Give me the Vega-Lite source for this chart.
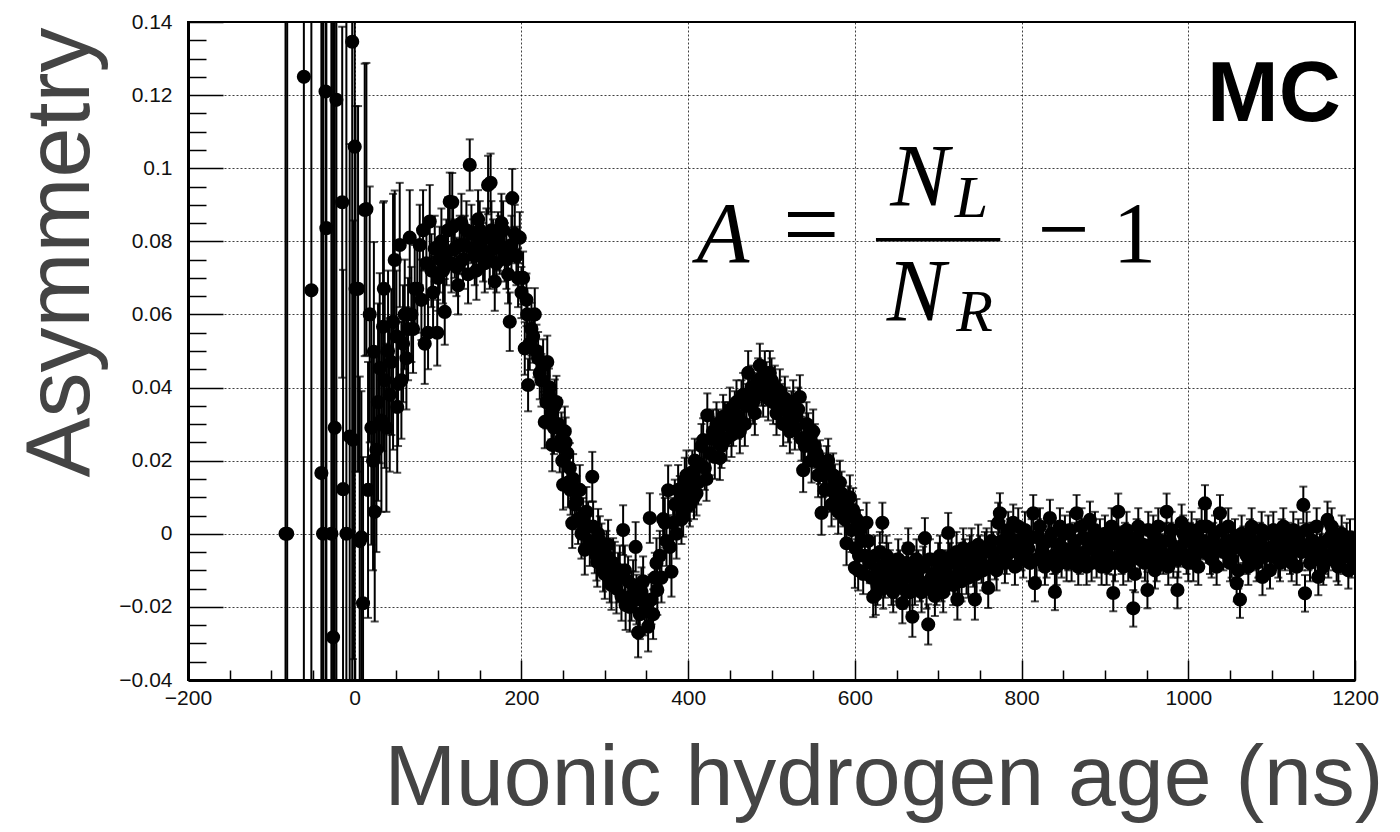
{
  "$schema": "https://vega.github.io/schema/vega-lite/v6.json",
  "width": 1167,
  "height": 658,
  "autosize": "none",
  "padding": {"left": 188, "top": 22, "right": 45, "bottom": 152},
  "background": "white",
  "config": {
    "view": {"stroke": "black", "strokeWidth": 2},
    "axis": {
      "labelFont": "Liberation Sans",
      "labelFontSize": 21,
      "labelColor": "#111111",
      "labelOverlap": false,
      "labelBound": false,
      "labelFlush": false,
      "titleFont": "Liberation Sans",
      "titleFontWeight": "normal",
      "titleColor": "#444444",
      "tickColor": "black",
      "domainColor": "black",
      "gridColor": "black",
      "gridDash": [2, 2],
      "gridOpacity": 0.75,
      "gridWidth": 1
    }
  },
  "datasets": {
    "h": [
      {"t": -83, "a": 0, "e": 1}, {"t": -81, "a": 0, "e": 1}, {"t": -61, "a": 0.125, "e": 1}, {"t": -52, "a": 0.0666, "e": 1},
      {"t": -40, "a": 0.0166, "e": 1}, {"t": -38, "a": 0, "e": 1}, {"t": -35, "a": 0.121, "e": 1}, {"t": -34, "a": 0.0836, "e": 1},
      {"t": -28, "a": 0, "e": 1}, {"t": -26, "a": -0.0283, "e": 1}, {"t": -24, "a": 0.029, "e": 1}, {"t": -22, "a": 0.1187, "e": 0.2},
      {"t": -15, "a": 0.0907, "e": 0.048}, {"t": -14, "a": 0.0122, "e": 0.06}, {"t": -10, "a": 0, "e": 1}, {"t": -6, "a": 0.0266, "e": 0.08},
      {"t": -3, "a": 0.1346, "e": 1}, {"t": -2, "a": 0.0257, "e": 0.06}, {"t": 0, "a": 0.1059, "e": 1},
      {"t": 1, "a": 0.067, "e": 0.05}, {"t": 4, "a": 0.067, "e": 0.05}, {"t": 6, "a": -0.002, "e": 0.045}, {"t": 8, "a": -0.001, "e": 0.04},
      {"t": 10, "a": -0.019, "e": 0.04}, {"t": 12, "a": 0.0886, "e": 0.04}, {"t": 14, "a": 0.0888, "e": 0.04}, {"t": 16, "a": 0.012, "e": 0.035},
      {"t": 18, "a": 0.06, "e": 0.035}, {"t": 20, "a": 0.029, "e": 0.032}, {"t": 22, "a": 0.02, "e": 0.03}, {"t": 23, "a": 0.0498, "e": 0.03},
      {"t": 24, "a": 0.006, "e": 0.03}, {"t": 26, "a": 0.023, "e": 0.028}, {"t": 28, "a": 0.036, "e": 0.027}, {"t": 30, "a": 0.0453, "e": 0.026},
      {"t": 32, "a": 0.031, "e": 0.025}, {"t": 34, "a": 0.0566, "e": 0.034}, {"t": 35, "a": 0.067, "e": 0.024}, {"t": 36, "a": 0.042, "e": 0.024},
      {"t": 38, "a": 0.029, "e": 0.023}, {"t": 40, "a": 0.05, "e": 0.022}, {"t": 42, "a": 0.038, "e": 0.021}, {"t": 44, "a": 0.047, "e": 0.02},
      {"t": 46, "a": 0.058, "e": 0.035}, {"t": 48, "a": 0.0749, "e": 0.019}, {"t": 50, "a": 0.054, "e": 0.018}, {"t": 51, "a": 0.0347, "e": 0.018},
      {"t": 52, "a": 0.041, "e": 0.017}, {"t": 54, "a": 0.079, "e": 0.017}, {"t": 56, "a": 0.042, "e": 0.016}, {"t": 58, "a": 0.052, "e": 0.016},
      {"t": 60, "a": 0.06, "e": 0.015}, {"t": 62, "a": 0.048, "e": 0.014}, {"t": 64, "a": 0.056, "e": 0.014}, {"t": 66, "a": 0.081, "e": 0.013},
      {"t": 68, "a": 0.06, "e": 0.013}, {"t": 70, "a": 0.056, "e": 0.012}, {"t": 72, "a": 0.067, "e": 0.012}, {"t": 75, "a": 0.067, "e": 0.012},
      {"t": 78, "a": 0.079, "e": 0.011}, {"t": 80, "a": 0.064, "e": 0.011}, {"t": 82, "a": 0.083, "e": 0.011}, {"t": 84, "a": 0.052, "e": 0.011},
      {"t": 86, "a": 0.074, "e": 0.01}, {"t": 88, "a": 0.055, "e": 0.01}, {"t": 90, "a": 0.0854, "e": 0.01}, {"t": 92, "a": 0.072, "e": 0.01},
      {"t": 94, "a": 0.066, "e": 0.01}, {"t": 96, "a": 0.078, "e": 0.009}, {"t": 99, "a": 0.055, "e": 0.009}, {"t": 100, "a": 0.07, "e": 0.009},
      {"t": 102, "a": 0.075, "e": 0.009}, {"t": 104, "a": 0.08, "e": 0.009}, {"t": 106, "a": 0.072, "e": 0.009}, {"t": 108, "a": 0.0607, "e": 0.009},
      {"t": 110, "a": 0.077, "e": 0.009}, {"t": 112, "a": 0.083, "e": 0.009}, {"t": 114, "a": 0.0908, "e": 0.008}, {"t": 116, "a": 0.074, "e": 0.008},
      {"t": 117, "a": 0.0907, "e": 0.008}, {"t": 118, "a": 0.084, "e": 0.008}, {"t": 120, "a": 0.078, "e": 0.008}, {"t": 122, "a": 0.073, "e": 0.008},
      {"t": 124, "a": 0.068, "e": 0.008}, {"t": 126, "a": 0.079, "e": 0.008}, {"t": 128, "a": 0.085, "e": 0.008}, {"t": 130, "a": 0.075, "e": 0.008},
      {"t": 132, "a": 0.079, "e": 0.008}, {"t": 134, "a": 0.083, "e": 0.008}, {"t": 136, "a": 0.071, "e": 0.008}, {"t": 138, "a": 0.1009, "e": 0.007},
      {"t": 140, "a": 0.082, "e": 0.008}, {"t": 142, "a": 0.078, "e": 0.008}, {"t": 144, "a": 0.076, "e": 0.008}, {"t": 146, "a": 0.072, "e": 0.008},
      {"t": 148, "a": 0.086, "e": 0.008}, {"t": 150, "a": 0.083, "e": 0.008}, {"t": 152, "a": 0.08, "e": 0.008}, {"t": 154, "a": 0.077, "e": 0.008},
      {"t": 156, "a": 0.074, "e": 0.008}, {"t": 158, "a": 0.081, "e": 0.008}, {"t": 160, "a": 0.0954, "e": 0.008}, {"t": 162, "a": 0.075, "e": 0.008},
      {"t": 163, "a": 0.096, "e": 0.008}, {"t": 164, "a": 0.083, "e": 0.008}, {"t": 166, "a": 0.078, "e": 0.008}, {"t": 168, "a": 0.069, "e": 0.008},
      {"t": 170, "a": 0.074, "e": 0.008}, {"t": 172, "a": 0.08, "e": 0.008}, {"t": 174, "a": 0.079, "e": 0.008}, {"t": 176, "a": 0.085, "e": 0.008},
      {"t": 178, "a": 0.083, "e": 0.008}, {"t": 180, "a": 0.077, "e": 0.008}, {"t": 182, "a": 0.075, "e": 0.008}, {"t": 184, "a": 0.071, "e": 0.008},
      {"t": 186, "a": 0.058, "e": 0.008}, {"t": 188, "a": 0.079, "e": 0.008}, {"t": 189, "a": 0.0918, "e": 0.008}, {"t": 192, "a": 0.082, "e": 0.008},
      {"t": 194, "a": 0.076, "e": 0.008}, {"t": 196, "a": 0.07, "e": 0.008}, {"t": 198, "a": 0.081, "e": 0.007}, {"t": 200, "a": 0.066, "e": 0.007},
      {"t": 202, "a": 0.07, "e": 0.0072}, {"t": 204, "a": 0.0507, "e": 0.0072}, {"t": 206, "a": 0.064, "e": 0.0072}, {"t": 207, "a": 0.06, "e": 0.0072},
      {"t": 208, "a": 0.0407, "e": 0.0072}, {"t": 210, "a": 0.052, "e": 0.0072}, {"t": 212, "a": 0.056, "e": 0.0072}, {"t": 214, "a": 0.054, "e": 0.0072},
      {"t": 216, "a": 0.06, "e": 0.0072}, {"t": 218, "a": 0.05, "e": 0.0072}, {"t": 220, "a": 0.048, "e": 0.0072}, {"t": 222, "a": 0.044, "e": 0.0072},
      {"t": 224, "a": 0.042, "e": 0.0072}, {"t": 226, "a": 0.046, "e": 0.0072}, {"t": 228, "a": 0.0306, "e": 0.0072}, {"t": 230, "a": 0.036, "e": 0.0072},
      {"t": 231, "a": 0.047, "e": 0.0072}, {"t": 233, "a": 0.038, "e": 0.0072}, {"t": 234, "a": 0.04, "e": 0.0072}, {"t": 236, "a": 0.033, "e": 0.0072},
      {"t": 237, "a": 0.0243, "e": 0.0072}, {"t": 239, "a": 0.029, "e": 0.0072}, {"t": 240, "a": 0.035, "e": 0.0072}, {"t": 242, "a": 0.036, "e": 0.0072},
      {"t": 244, "a": 0.03, "e": 0.0072}, {"t": 246, "a": 0.024, "e": 0.0072}, {"t": 248, "a": 0.026, "e": 0.0072}, {"t": 249, "a": 0.02, "e": 0.0072},
      {"t": 250, "a": 0.0134, "e": 0.0068}, {"t": 252, "a": 0.028, "e": 0.0068}, {"t": 253, "a": 0.025, "e": 0.0068}, {"t": 255, "a": 0.022, "e": 0.0068},
      {"t": 256, "a": 0.014, "e": 0.0068}, {"t": 258, "a": 0.018, "e": 0.0068}, {"t": 259, "a": 0.012, "e": 0.0068}, {"t": 261, "a": 0.0029, "e": 0.0068},
      {"t": 262, "a": 0.015, "e": 0.0068}, {"t": 264, "a": 0.008, "e": 0.0068}, {"t": 266, "a": 0.009, "e": 0.0068}, {"t": 268, "a": 0.004, "e": 0.0068},
      {"t": 270, "a": 0.012, "e": 0.0068}, {"t": 272, "a": 0.0, "e": 0.0068}, {"t": 274, "a": 0.003, "e": 0.0068}, {"t": 276, "a": -0.0044, "e": 0.0068},
      {"t": 278, "a": 0.006, "e": 0.0068}, {"t": 280, "a": 0.002, "e": 0.0068}, {"t": 282, "a": -0.002, "e": 0.0068}, {"t": 285, "a": 0.0156, "e": 0.0068},
      {"t": 286, "a": 0.002, "e": 0.0068}, {"t": 288, "a": -0.004, "e": 0.0068}, {"t": 290, "a": -0.006, "e": 0.0068}, {"t": 291, "a": -0.0077, "e": 0.0068},
      {"t": 292, "a": 0.0, "e": 0.0068}, {"t": 294, "a": -0.002, "e": 0.0068}, {"t": 296, "a": -0.004, "e": 0.0068}, {"t": 298, "a": -0.009, "e": 0.0068},
      {"t": 300, "a": -0.011, "e": 0.0068}, {"t": 302, "a": -0.006, "e": 0.0068}, {"t": 304, "a": -0.003, "e": 0.0068}, {"t": 306, "a": -0.012, "e": 0.0068},
      {"t": 308, "a": -0.014, "e": 0.0068}, {"t": 310, "a": -0.008, "e": 0.0068}, {"t": 312, "a": -0.009, "e": 0.0068}, {"t": 314, "a": -0.015, "e": 0.0068},
      {"t": 316, "a": -0.012, "e": 0.0068}, {"t": 318, "a": -0.01, "e": 0.0068}, {"t": 320, "a": -0.017, "e": 0.0068}, {"t": 322, "a": 0.001, "e": 0.0068},
      {"t": 324, "a": -0.01, "e": 0.0068}, {"t": 325, "a": -0.0195, "e": 0.0068}, {"t": 328, "a": -0.013, "e": 0.0068}, {"t": 330, "a": -0.02, "e": 0.0068},
      {"t": 332, "a": -0.017, "e": 0.0068}, {"t": 334, "a": -0.014, "e": 0.0068}, {"t": 337, "a": -0.0036, "e": 0.0068}, {"t": 338, "a": -0.018, "e": 0.0068},
      {"t": 340, "a": -0.027, "e": 0.0068}, {"t": 342, "a": -0.022, "e": 0.0068}, {"t": 344, "a": -0.016, "e": 0.0068}, {"t": 346, "a": -0.013, "e": 0.0068},
      {"t": 348, "a": -0.021, "e": 0.0068}, {"t": 350, "a": -0.019, "e": 0.0068}, {"t": 352, "a": -0.0254, "e": 0.0068}, {"t": 354, "a": 0.0043, "e": 0.0068},
      {"t": 356, "a": -0.018, "e": 0.0068}, {"t": 358, "a": -0.022, "e": 0.0068}, {"t": 360, "a": -0.012, "e": 0.0068}, {"t": 362, "a": -0.008, "e": 0.0068},
      {"t": 363, "a": -0.0154, "e": 0.0068}, {"t": 366, "a": -0.006, "e": 0.0068}, {"t": 368, "a": -0.012, "e": 0.0068}, {"t": 370, "a": 0.004, "e": 0.0068},
      {"t": 372, "a": 0.003, "e": 0.0068}, {"t": 374, "a": -0.002, "e": 0.0068}, {"t": 376, "a": 0.0119, "e": 0.0068}, {"t": 378, "a": -0.0036, "e": 0.0068},
      {"t": 380, "a": -0.0104, "e": 0.0068}, {"t": 382, "a": 0.003, "e": 0.0068}, {"t": 384, "a": 0.008, "e": 0.0068}, {"t": 386, "a": 0.0, "e": 0.0068},
      {"t": 388, "a": 0.012, "e": 0.0068}, {"t": 390, "a": 0.009, "e": 0.0068}, {"t": 392, "a": 0.004, "e": 0.0068}, {"t": 394, "a": 0.006, "e": 0.0068},
      {"t": 396, "a": 0.014, "e": 0.0068}, {"t": 398, "a": 0.016, "e": 0.0068}, {"t": 400, "a": 0.01, "e": 0.0065},
      {"t": 402, "a": 0.008, "e": 0.006}, {"t": 404, "a": 0.012, "e": 0.006}, {"t": 405, "a": 0.0168, "e": 0.006}, {"t": 407, "a": 0.01, "e": 0.006},
      {"t": 408, "a": 0.02, "e": 0.006}, {"t": 410, "a": 0.011, "e": 0.006}, {"t": 412, "a": 0.014, "e": 0.006}, {"t": 414, "a": 0.019, "e": 0.006},
      {"t": 416, "a": 0.024, "e": 0.006}, {"t": 418, "a": 0.0256, "e": 0.006}, {"t": 420, "a": 0.018, "e": 0.006}, {"t": 422, "a": 0.015, "e": 0.006},
      {"t": 423, "a": 0.0324, "e": 0.006}, {"t": 426, "a": 0.022, "e": 0.006}, {"t": 428, "a": 0.026, "e": 0.006}, {"t": 430, "a": 0.028, "e": 0.006},
      {"t": 432, "a": 0.021, "e": 0.006}, {"t": 434, "a": 0.03, "e": 0.006}, {"t": 436, "a": 0.028, "e": 0.006}, {"t": 438, "a": 0.0207, "e": 0.006},
      {"t": 440, "a": 0.024, "e": 0.006}, {"t": 442, "a": 0.032, "e": 0.006}, {"t": 444, "a": 0.03, "e": 0.006}, {"t": 446, "a": 0.026, "e": 0.006},
      {"t": 448, "a": 0.03, "e": 0.006}, {"t": 450, "a": 0.034, "e": 0.006}, {"t": 452, "a": 0.027, "e": 0.006}, {"t": 454, "a": 0.03, "e": 0.006},
      {"t": 456, "a": 0.033, "e": 0.006}, {"t": 458, "a": 0.036, "e": 0.006}, {"t": 460, "a": 0.032, "e": 0.006}, {"t": 462, "a": 0.028, "e": 0.006},
      {"t": 464, "a": 0.036, "e": 0.006}, {"t": 466, "a": 0.038, "e": 0.006}, {"t": 468, "a": 0.03, "e": 0.006}, {"t": 470, "a": 0.035, "e": 0.006},
      {"t": 472, "a": 0.044, "e": 0.006}, {"t": 474, "a": 0.037, "e": 0.006}, {"t": 476, "a": 0.04, "e": 0.006}, {"t": 478, "a": 0.036, "e": 0.006},
      {"t": 480, "a": 0.033, "e": 0.006}, {"t": 482, "a": 0.038, "e": 0.006}, {"t": 484, "a": 0.042, "e": 0.006}, {"t": 486, "a": 0.046, "e": 0.006},
      {"t": 488, "a": 0.041, "e": 0.006}, {"t": 490, "a": 0.038, "e": 0.006}, {"t": 492, "a": 0.044, "e": 0.006}, {"t": 494, "a": 0.041, "e": 0.006},
      {"t": 496, "a": 0.037, "e": 0.006}, {"t": 498, "a": 0.044, "e": 0.006}, {"t": 500, "a": 0.042, "e": 0.006}, {"t": 502, "a": 0.036, "e": 0.006},
      {"t": 504, "a": 0.04, "e": 0.006}, {"t": 506, "a": 0.033, "e": 0.006}, {"t": 508, "a": 0.036, "e": 0.006}, {"t": 510, "a": 0.039, "e": 0.006},
      {"t": 512, "a": 0.035, "e": 0.006}, {"t": 514, "a": 0.03, "e": 0.006}, {"t": 516, "a": 0.037, "e": 0.006}, {"t": 518, "a": 0.034, "e": 0.006},
      {"t": 520, "a": 0.031, "e": 0.006}, {"t": 522, "a": 0.028, "e": 0.006}, {"t": 524, "a": 0.033, "e": 0.006}, {"t": 526, "a": 0.036, "e": 0.006},
      {"t": 528, "a": 0.029, "e": 0.006}, {"t": 530, "a": 0.032, "e": 0.006}, {"t": 532, "a": 0.034, "e": 0.006}, {"t": 534, "a": 0.0374, "e": 0.006},
      {"t": 536, "a": 0.026, "e": 0.006}, {"t": 538, "a": 0.0174, "e": 0.006}, {"t": 540, "a": 0.024, "e": 0.006}, {"t": 542, "a": 0.03, "e": 0.006},
      {"t": 544, "a": 0.027, "e": 0.006}, {"t": 546, "a": 0.025, "e": 0.006}, {"t": 548, "a": 0.02, "e": 0.006}, {"t": 550, "a": 0.028, "e": 0.006},
      {"t": 552, "a": 0.024, "e": 0.006}, {"t": 554, "a": 0.022, "e": 0.006}, {"t": 556, "a": 0.016, "e": 0.006}, {"t": 558, "a": 0.0196, "e": 0.006},
      {"t": 560, "a": 0.0057, "e": 0.006}, {"t": 562, "a": 0.016, "e": 0.006}, {"t": 564, "a": 0.012, "e": 0.006}, {"t": 566, "a": 0.018, "e": 0.006},
      {"t": 568, "a": 0.02, "e": 0.006}, {"t": 570, "a": 0.012, "e": 0.006}, {"t": 572, "a": 0.008, "e": 0.006}, {"t": 574, "a": 0.016, "e": 0.006},
      {"t": 576, "a": 0.013, "e": 0.006}, {"t": 578, "a": 0.01, "e": 0.006}, {"t": 580, "a": 0.006, "e": 0.006}, {"t": 582, "a": 0.014, "e": 0.006},
      {"t": 584, "a": 0.011, "e": 0.006}, {"t": 586, "a": 0.008, "e": 0.006}, {"t": 588, "a": 0.004, "e": 0.006}, {"t": 590, "a": -0.0026, "e": 0.006},
      {"t": 592, "a": 0.007, "e": 0.006}, {"t": 594, "a": 0.01, "e": 0.006}, {"t": 596, "a": 0.001, "e": 0.006}, {"t": 598, "a": 0.0065, "e": 0.006},
      {"t": 600, "a": -0.0093, "e": 0.0055}, {"t": 601, "a": -0.004, "e": 0.0055}, {"t": 602, "a": 0.004, "e": 0.0055}, {"t": 604, "a": -0.01, "e": 0.0055},
      {"t": 605, "a": -0.006, "e": 0.0055}, {"t": 606, "a": 0.001, "e": 0.0055}, {"t": 608, "a": -0.002, "e": 0.0055}, {"t": 610, "a": -0.011, "e": 0.0055},
      {"t": 612, "a": -0.006, "e": 0.0055}, {"t": 614, "a": 0.003, "e": 0.0055}, {"t": 616, "a": -0.002, "e": 0.0055}, {"t": 618, "a": -0.008, "e": 0.0055},
      {"t": 620, "a": -0.012, "e": 0.0055}, {"t": 622, "a": -0.0173, "e": 0.0055}, {"t": 624, "a": -0.006, "e": 0.0055}, {"t": 625, "a": -0.0167, "e": 0.0055},
      {"t": 627, "a": -0.014, "e": 0.0055}, {"t": 628, "a": -0.01, "e": 0.0055}, {"t": 630, "a": -0.005, "e": 0.0055}, {"t": 632, "a": -0.009, "e": 0.0055},
      {"t": 633, "a": 0.003, "e": 0.0055}, {"t": 634, "a": -0.015, "e": 0.0055}, {"t": 636, "a": -0.012, "e": 0.0055}, {"t": 638, "a": -0.006, "e": 0.0055},
      {"t": 640, "a": -0.008, "e": 0.0055}, {"t": 642, "a": -0.01, "e": 0.0055}, {"t": 644, "a": -0.014, "e": 0.0055}, {"t": 646, "a": -0.016, "e": 0.0055},
      {"t": 648, "a": -0.011, "e": 0.0055}, {"t": 650, "a": -0.013, "e": 0.0055}, {"t": 652, "a": -0.007, "e": 0.0055}, {"t": 654, "a": -0.01, "e": 0.0055},
      {"t": 656, "a": -0.013, "e": 0.0055}, {"t": 657, "a": -0.019, "e": 0.0055}, {"t": 658, "a": -0.015, "e": 0.0055}, {"t": 660, "a": -0.012, "e": 0.0055},
      {"t": 662, "a": -0.008, "e": 0.0055}, {"t": 664, "a": -0.004, "e": 0.0055}, {"t": 666, "a": -0.016, "e": 0.0055}, {"t": 668, "a": -0.009, "e": 0.0055},
      {"t": 669, "a": -0.0227, "e": 0.0055}, {"t": 670, "a": -0.011, "e": 0.0055}, {"t": 672, "a": -0.014, "e": 0.0055}, {"t": 674, "a": -0.007, "e": 0.0055},
      {"t": 676, "a": -0.01, "e": 0.0055}, {"t": 678, "a": -0.013, "e": 0.0055}, {"t": 680, "a": -0.016, "e": 0.0055}, {"t": 682, "a": -0.009, "e": 0.0055},
      {"t": 684, "a": -0.0012, "e": 0.0055}, {"t": 686, "a": -0.015, "e": 0.0055}, {"t": 688, "a": -0.0248, "e": 0.0055}, {"t": 690, "a": -0.007, "e": 0.0055},
      {"t": 692, "a": -0.012, "e": 0.0055}, {"t": 694, "a": -0.011, "e": 0.0055}, {"t": 696, "a": -0.017, "e": 0.0055}, {"t": 698, "a": -0.014, "e": 0.0055},
      {"t": 700, "a": -0.008, "e": 0.0055}, {"t": 702, "a": -0.006, "e": 0.0055}, {"t": 704, "a": -0.013, "e": 0.0055}, {"t": 706, "a": -0.016, "e": 0.0055},
      {"t": 708, "a": -0.01, "e": 0.0055}, {"t": 710, "a": -0.011, "e": 0.0055}, {"t": 712, "a": 0.0002, "e": 0.0055}, {"t": 714, "a": -0.008, "e": 0.0055},
      {"t": 716, "a": -0.006, "e": 0.0055}, {"t": 718, "a": -0.014, "e": 0.0055}, {"t": 720, "a": -0.012, "e": 0.0055}, {"t": 722, "a": -0.005, "e": 0.0055},
      {"t": 723, "a": -0.018, "e": 0.0055}, {"t": 725, "a": -0.011, "e": 0.0055}, {"t": 726, "a": -0.008, "e": 0.0055}, {"t": 728, "a": -0.013, "e": 0.0055},
      {"t": 730, "a": -0.004, "e": 0.0055}, {"t": 732, "a": -0.007, "e": 0.0055}, {"t": 734, "a": -0.011, "e": 0.0055}, {"t": 736, "a": -0.012, "e": 0.0055},
      {"t": 738, "a": -0.006, "e": 0.0055}, {"t": 740, "a": -0.004, "e": 0.0055}, {"t": 742, "a": -0.009, "e": 0.0055}, {"t": 744, "a": -0.018, "e": 0.0055},
      {"t": 746, "a": -0.011, "e": 0.0055}, {"t": 748, "a": -0.003, "e": 0.0055}, {"t": 750, "a": -0.006, "e": 0.0055}, {"t": 752, "a": -0.008, "e": 0.0055},
      {"t": 754, "a": -0.01, "e": 0.0055}, {"t": 756, "a": -0.005, "e": 0.0055}, {"t": 758, "a": -0.004, "e": 0.0055}, {"t": 760, "a": -0.0148, "e": 0.0055},
      {"t": 762, "a": -0.009, "e": 0.0055}, {"t": 764, "a": -0.002, "e": 0.0055}, {"t": 766, "a": -0.005, "e": 0.0055}, {"t": 768, "a": -0.007, "e": 0.0055},
      {"t": 770, "a": -0.01, "e": 0.0055}, {"t": 772, "a": 0.003, "e": 0.0055}, {"t": 774, "a": 0.0056, "e": 0.0055}, {"t": 776, "a": -0.002, "e": 0.0055},
      {"t": 778, "a": -0.004, "e": 0.0055}, {"t": 780, "a": -0.008, "e": 0.0055},
      {"t": 782, "a": -0.006, "e": 0.005}, {"t": 784, "a": 0.001, "e": 0.005}, {"t": 786, "a": -0.001, "e": 0.005}, {"t": 788, "a": -0.004, "e": 0.005},
      {"t": 790, "a": 0.003, "e": 0.005}, {"t": 792, "a": -0.009, "e": 0.005}, {"t": 794, "a": -0.005, "e": 0.005}, {"t": 796, "a": 0.002, "e": 0.005},
      {"t": 798, "a": -0.002, "e": 0.005}, {"t": 800, "a": -0.005, "e": 0.005}, {"t": 802, "a": -0.007, "e": 0.005}, {"t": 804, "a": 0.001, "e": 0.005},
      {"t": 806, "a": -0.003, "e": 0.005}, {"t": 808, "a": -0.004, "e": 0.005}, {"t": 810, "a": -0.008, "e": 0.005}, {"t": 812, "a": -0.001, "e": 0.005},
      {"t": 814, "a": 0.0056, "e": 0.005}, {"t": 816, "a": -0.0135, "e": 0.005}, {"t": 818, "a": -0.007, "e": 0.005}, {"t": 820, "a": -0.001, "e": 0.005},
      {"t": 822, "a": 0.002, "e": 0.005}, {"t": 824, "a": -0.005, "e": 0.005}, {"t": 826, "a": -0.003, "e": 0.005}, {"t": 828, "a": -0.009, "e": 0.005},
      {"t": 830, "a": -0.007, "e": 0.005}, {"t": 832, "a": -0.002, "e": 0.005}, {"t": 834, "a": 0.0043, "e": 0.005}, {"t": 836, "a": 0.0, "e": 0.005},
      {"t": 838, "a": -0.006, "e": 0.005}, {"t": 840, "a": -0.0159, "e": 0.005}, {"t": 842, "a": -0.009, "e": 0.005}, {"t": 844, "a": -0.003, "e": 0.005},
      {"t": 846, "a": 0.002, "e": 0.005}, {"t": 848, "a": -0.007, "e": 0.005}, {"t": 850, "a": -0.004, "e": 0.005}, {"t": 852, "a": 0.0, "e": 0.005},
      {"t": 854, "a": -0.008, "e": 0.005}, {"t": 856, "a": -0.005, "e": 0.005}, {"t": 858, "a": 0.001, "e": 0.005}, {"t": 860, "a": -0.008, "e": 0.005},
      {"t": 862, "a": -0.004, "e": 0.005}, {"t": 864, "a": -0.002, "e": 0.005}, {"t": 866, "a": 0.0056, "e": 0.005}, {"t": 868, "a": -0.009, "e": 0.005},
      {"t": 870, "a": -0.006, "e": 0.005}, {"t": 872, "a": 0.002, "e": 0.005}, {"t": 874, "a": -0.001, "e": 0.005}, {"t": 876, "a": -0.005, "e": 0.005},
      {"t": 878, "a": -0.009, "e": 0.005}, {"t": 880, "a": -0.002, "e": 0.005}, {"t": 882, "a": 0.0038, "e": 0.005}, {"t": 884, "a": -0.008, "e": 0.005},
      {"t": 886, "a": -0.004, "e": 0.005}, {"t": 888, "a": 0.001, "e": 0.005}, {"t": 890, "a": -0.007, "e": 0.005}, {"t": 892, "a": -0.004, "e": 0.005},
      {"t": 894, "a": -0.001, "e": 0.005}, {"t": 896, "a": -0.009, "e": 0.005}, {"t": 898, "a": -0.005, "e": 0.005}, {"t": 900, "a": 0.0, "e": 0.005},
      {"t": 902, "a": -0.009, "e": 0.005}, {"t": 904, "a": -0.006, "e": 0.005}, {"t": 906, "a": -0.003, "e": 0.005}, {"t": 908, "a": 0.002, "e": 0.005},
      {"t": 910, "a": -0.0162, "e": 0.005}, {"t": 912, "a": -0.008, "e": 0.005}, {"t": 914, "a": 0.0, "e": 0.005}, {"t": 916, "a": 0.006, "e": 0.005},
      {"t": 918, "a": -0.003, "e": 0.005}, {"t": 920, "a": -0.006, "e": 0.005}, {"t": 922, "a": -0.009, "e": 0.005}, {"t": 924, "a": -0.002, "e": 0.005},
      {"t": 926, "a": 0.001, "e": 0.005}, {"t": 928, "a": -0.008, "e": 0.005}, {"t": 930, "a": -0.005, "e": 0.005}, {"t": 932, "a": -0.004, "e": 0.005},
      {"t": 934, "a": -0.0204, "e": 0.005}, {"t": 936, "a": -0.011, "e": 0.005}, {"t": 938, "a": -0.001, "e": 0.005}, {"t": 940, "a": 0.002, "e": 0.005},
      {"t": 942, "a": -0.007, "e": 0.005}, {"t": 944, "a": -0.004, "e": 0.005}, {"t": 946, "a": -0.003, "e": 0.005}, {"t": 948, "a": -0.008, "e": 0.005},
      {"t": 951, "a": -0.0154, "e": 0.005}, {"t": 952, "a": 0.001, "e": 0.005}, {"t": 954, "a": -0.005, "e": 0.005}, {"t": 956, "a": -0.003, "e": 0.005},
      {"t": 958, "a": 0.0, "e": 0.005}, {"t": 960, "a": -0.01, "e": 0.005}, {"t": 962, "a": -0.008, "e": 0.005}, {"t": 964, "a": 0.002, "e": 0.005},
      {"t": 966, "a": -0.003, "e": 0.005}, {"t": 968, "a": -0.005, "e": 0.005}, {"t": 970, "a": -0.006, "e": 0.005}, {"t": 972, "a": -0.002, "e": 0.005},
      {"t": 974, "a": 0.006, "e": 0.005}, {"t": 976, "a": -0.009, "e": 0.005}, {"t": 978, "a": -0.002, "e": 0.005}, {"t": 980, "a": 0.001, "e": 0.005},
      {"t": 982, "a": -0.007, "e": 0.005}, {"t": 984, "a": -0.004, "e": 0.005}, {"t": 987, "a": -0.0154, "e": 0.005}, {"t": 988, "a": -0.007, "e": 0.005},
      {"t": 990, "a": -0.004, "e": 0.005}, {"t": 992, "a": 0.003, "e": 0.005}, {"t": 994, "a": 0.0, "e": 0.005}, {"t": 996, "a": -0.002, "e": 0.005},
      {"t": 998, "a": -0.006, "e": 0.005}, {"t": 1000, "a": -0.008, "e": 0.005}, {"t": 1002, "a": -0.002, "e": 0.005}, {"t": 1004, "a": 0.001, "e": 0.005},
      {"t": 1006, "a": -0.008, "e": 0.005}, {"t": 1008, "a": -0.004, "e": 0.005}, {"t": 1010, "a": -0.001, "e": 0.005}, {"t": 1012, "a": -0.009, "e": 0.005},
      {"t": 1014, "a": -0.005, "e": 0.005}, {"t": 1016, "a": 0.002, "e": 0.005}, {"t": 1018, "a": -0.002, "e": 0.005}, {"t": 1020, "a": 0.0083, "e": 0.005},
      {"t": 1022, "a": 0.002, "e": 0.005}, {"t": 1024, "a": -0.003, "e": 0.005}, {"t": 1026, "a": -0.006, "e": 0.005}, {"t": 1028, "a": -0.007, "e": 0.005},
      {"t": 1030, "a": -0.002, "e": 0.005}, {"t": 1032, "a": 0.0, "e": 0.005}, {"t": 1034, "a": -0.009, "e": 0.005}, {"t": 1036, "a": -0.004, "e": 0.005},
      {"t": 1038, "a": 0.0056, "e": 0.005}, {"t": 1040, "a": 0.001, "e": 0.005}, {"t": 1042, "a": -0.005, "e": 0.005}, {"t": 1044, "a": -0.004, "e": 0.005},
      {"t": 1046, "a": -0.002, "e": 0.005}, {"t": 1048, "a": 0.002, "e": 0.005}, {"t": 1050, "a": -0.008, "e": 0.005}, {"t": 1052, "a": -0.007, "e": 0.005},
      {"t": 1054, "a": -0.004, "e": 0.005}, {"t": 1056, "a": -0.001, "e": 0.005}, {"t": 1058, "a": -0.0135, "e": 0.005}, {"t": 1060, "a": -0.01, "e": 0.005},
      {"t": 1062, "a": -0.018, "e": 0.005}, {"t": 1064, "a": 0.0, "e": 0.005}, {"t": 1066, "a": -0.003, "e": 0.005}, {"t": 1068, "a": -0.005, "e": 0.005},
      {"t": 1070, "a": -0.006, "e": 0.005}, {"t": 1072, "a": -0.009, "e": 0.005}, {"t": 1074, "a": -0.001, "e": 0.005}, {"t": 1076, "a": 0.002, "e": 0.005},
      {"t": 1078, "a": -0.005, "e": 0.005}, {"t": 1080, "a": -0.003, "e": 0.005}, {"t": 1082, "a": -0.008, "e": 0.005}, {"t": 1084, "a": -0.007, "e": 0.005},
      {"t": 1086, "a": -0.002, "e": 0.005}, {"t": 1088, "a": 0.001, "e": 0.005}, {"t": 1089, "a": -0.0118, "e": 0.005}, {"t": 1092, "a": -0.004, "e": 0.005},
      {"t": 1094, "a": -0.006, "e": 0.005}, {"t": 1096, "a": 0.0, "e": 0.005}, {"t": 1098, "a": -0.01, "e": 0.005}, {"t": 1100, "a": -0.006, "e": 0.005},
      {"t": 1102, "a": 0.001, "e": 0.005}, {"t": 1104, "a": -0.003, "e": 0.005}, {"t": 1106, "a": -0.004, "e": 0.005}, {"t": 1108, "a": -0.007, "e": 0.005},
      {"t": 1110, "a": -0.008, "e": 0.005}, {"t": 1112, "a": -0.001, "e": 0.005}, {"t": 1114, "a": 0.002, "e": 0.005}, {"t": 1116, "a": -0.005, "e": 0.005},
      {"t": 1118, "a": -0.003, "e": 0.005}, {"t": 1120, "a": -0.002, "e": 0.005}, {"t": 1122, "a": -0.006, "e": 0.005}, {"t": 1124, "a": -0.008, "e": 0.005},
      {"t": 1126, "a": 0.001, "e": 0.005}, {"t": 1128, "a": -0.004, "e": 0.005}, {"t": 1130, "a": -0.009, "e": 0.005}, {"t": 1132, "a": -0.001, "e": 0.005},
      {"t": 1134, "a": -0.003, "e": 0.005}, {"t": 1136, "a": -0.005, "e": 0.005}, {"t": 1138, "a": 0.0079, "e": 0.005}, {"t": 1140, "a": -0.0163, "e": 0.005},
      {"t": 1142, "a": 0.001, "e": 0.005}, {"t": 1144, "a": -0.005, "e": 0.005}, {"t": 1146, "a": -0.008, "e": 0.005}, {"t": 1148, "a": -0.002, "e": 0.005},
      {"t": 1150, "a": -0.002, "e": 0.005}, {"t": 1152, "a": -0.007, "e": 0.005}, {"t": 1154, "a": 0.002, "e": 0.005}, {"t": 1156, "a": -0.0118, "e": 0.005},
      {"t": 1158, "a": -0.005, "e": 0.005}, {"t": 1160, "a": -0.003, "e": 0.005}, {"t": 1162, "a": -0.009, "e": 0.005}, {"t": 1164, "a": -0.006, "e": 0.005},
      {"t": 1166, "a": -0.002, "e": 0.005}, {"t": 1167, "a": 0.0038, "e": 0.005}, {"t": 1168, "a": -0.007, "e": 0.005}, {"t": 1170, "a": -0.001, "e": 0.005},
      {"t": 1172, "a": 0.002, "e": 0.005}, {"t": 1174, "a": -0.005, "e": 0.005}, {"t": 1176, "a": -0.003, "e": 0.005}, {"t": 1178, "a": -0.008, "e": 0.005},
      {"t": 1180, "a": -0.009, "e": 0.005}, {"t": 1182, "a": -0.003, "e": 0.005}, {"t": 1184, "a": 0.0, "e": 0.005}, {"t": 1186, "a": -0.006, "e": 0.005},
      {"t": 1188, "a": -0.005, "e": 0.005}, {"t": 1190, "a": -0.002, "e": 0.005}, {"t": 1192, "a": -0.01, "e": 0.005}, {"t": 1194, "a": -0.001, "e": 0.005},
      {"t": 1196, "a": -0.007, "e": 0.005}, {"t": 1197, "a": -0.0044, "e": 0.005}, {"t": 1199, "a": -0.006, "e": 0.005}
    ]
  },
  "resolve": {"axis": {"x": "independent", "y": "independent"}},
  "layer": [
    {
      "data": {"name": "h"},
      "mark": {"type": "errorbar", "clip": true, "color": "black", "thickness": 2, "ticks": {"size": 8, "thickness": 2, "color": "black"}},
      "encoding": {
        "x": {
          "field": "t", "type": "quantitative",
          "scale": {"domain": [-200, 1200], "nice": false, "zero": false},
          "axis": {
            "orient": "bottom",
            "values": [-200, 0, 200, 400, 600, 800, 1000, 1200],
            "format": "d",
            "tickSize": -20, "tickWidth": 1.5,
            "domainWidth": 3,
            "labelPadding": 27,
            "grid": true,
            "title": "Muonic hydrogen age (ns)",
            "titleFontSize": 86,
            "titleX": 1195, "titleY": 124,
            "titleAlign": "right", "titleBaseline": "alphabetic", "titleAnchor": null
          }
        },
        "y": {
          "field": "a", "type": "quantitative",
          "scale": {"domain": [-0.04, 0.14], "nice": false, "zero": false},
          "axis": {
            "orient": "left",
            "values": [-0.04, -0.02, 0, 0.02, 0.04, 0.06, 0.08, 0.1, 0.12, 0.14],
            "format": "~g",
            "tickSize": -35, "tickWidth": 1.5,
            "domainWidth": 3,
            "labelPadding": 51,
            "grid": true,
            "title": "Asymmetry",
            "titleFontSize": 90,
            "titleAngle": -90,
            "titleX": -100, "titleY": 230,
            "titleAlign": "center", "titleBaseline": "alphabetic", "titleAnchor": null
          }
        },
        "yError": {"field": "e"}
      }
    },
    {
      "data": {"name": "h"},
      "mark": {"type": "circle", "clip": true, "color": "black", "opacity": 1, "size": 200},
      "encoding": {
        "x": {
          "field": "t", "type": "quantitative",
          "axis": {
            "orient": "bottom",
            "values": [-150, -100, -50, 50, 100, 150, 250, 300, 350, 450, 500, 550, 650, 700, 750, 850, 900, 950, 1050, 1100, 1150],
            "tickSize": -10, "tickWidth": 1.5,
            "labels": false, "domain": false, "grid": false, "title": null
          }
        },
        "y": {
          "field": "a", "type": "quantitative",
          "axis": {
            "orient": "left",
            "values": [-0.035, -0.03, -0.025, -0.015, -0.01, -0.005, 0.005, 0.01, 0.015, 0.025, 0.03, 0.035, 0.045, 0.05, 0.055, 0.065, 0.07, 0.075, 0.085, 0.09, 0.095, 0.105, 0.11, 0.115, 0.125, 0.13, 0.135],
            "tickSize": -18, "tickWidth": 1.5,
            "labels": false, "domain": false, "grid": false, "title": null
          }
        }
      }
    },
    {
      "data": {"values": [{}]},
      "mark": {"type": "text", "text": "MC", "font": "Liberation Sans", "fontWeight": "bold", "fontSize": 86, "align": "right", "baseline": "alphabetic", "color": "black"},
      "encoding": {"x": {"datum": 1183, "type": "quantitative", "axis": null}, "y": {"datum": 0.113, "type": "quantitative", "axis": null}}
    },
    {
      "data": {"values": [{}]},
      "mark": {"type": "text", "text": "A", "font": "Liberation Serif", "fontStyle": "italic", "fontSize": 86, "align": "center", "baseline": "alphabetic", "color": "black"},
      "encoding": {"x": {"datum": 441.8, "type": "quantitative", "axis": null}, "y": {"datum": 0.0744, "type": "quantitative", "axis": null}}
    },
    {
      "data": {"values": [{}]},
      "mark": {"type": "text", "text": "=", "font": "Liberation Serif", "fontSize": 100, "align": "center", "baseline": "alphabetic", "color": "black"},
      "encoding": {"x": {"datum": 547.6, "type": "quantitative", "axis": null}, "y": {"datum": 0.0755, "type": "quantitative", "axis": null}}
    },
    {
      "data": {"values": [{}]},
      "mark": {"type": "rule", "color": "black", "strokeWidth": 3.5},
      "encoding": {"x": {"datum": 625.3, "type": "quantitative", "axis": null}, "x2": {"datum": 774.5}, "y": {"datum": 0.0804, "type": "quantitative", "axis": null}}
    },
    {
      "data": {"values": [{}]},
      "mark": {"type": "text", "text": "N", "font": "Liberation Serif", "fontStyle": "italic", "fontSize": 88, "align": "center", "baseline": "alphabetic", "color": "black"},
      "encoding": {"x": {"datum": 677.6, "type": "quantitative", "axis": null}, "y": {"datum": 0.0899, "type": "quantitative", "axis": null}}
    },
    {
      "data": {"values": [{}]},
      "mark": {"type": "text", "text": "L", "font": "Liberation Serif", "fontStyle": "italic", "fontSize": 60, "align": "center", "baseline": "alphabetic", "color": "black"},
      "encoding": {"x": {"datum": 740, "type": "quantitative", "axis": null}, "y": {"datum": 0.0867, "type": "quantitative", "axis": null}}
    },
    {
      "data": {"values": [{}]},
      "mark": {"type": "text", "text": "N", "font": "Liberation Serif", "fontStyle": "italic", "fontSize": 88, "align": "center", "baseline": "alphabetic", "color": "black"},
      "encoding": {"x": {"datum": 673.4, "type": "quantitative", "axis": null}, "y": {"datum": 0.0585, "type": "quantitative", "axis": null}}
    },
    {
      "data": {"values": [{}]},
      "mark": {"type": "text", "text": "R", "font": "Liberation Serif", "fontStyle": "italic", "fontSize": 60, "align": "center", "baseline": "alphabetic", "color": "black"},
      "encoding": {"x": {"datum": 743.6, "type": "quantitative", "axis": null}, "y": {"datum": 0.0555, "type": "quantitative", "axis": null}}
    },
    {
      "data": {"values": [{}]},
      "mark": {"type": "text", "text": "−", "font": "Liberation Serif", "fontSize": 92, "align": "center", "baseline": "alphabetic", "color": "black"},
      "encoding": {"x": {"datum": 850.5, "type": "quantitative", "axis": null}, "y": {"datum": 0.0748, "type": "quantitative", "axis": null}}
    },
    {
      "data": {"values": [{}]},
      "mark": {"type": "text", "text": "1", "font": "Liberation Serif", "fontSize": 86, "align": "center", "baseline": "alphabetic", "color": "black"},
      "encoding": {"x": {"datum": 935.5, "type": "quantitative", "axis": null}, "y": {"datum": 0.0744, "type": "quantitative", "axis": null}}
    }
  ]
}
